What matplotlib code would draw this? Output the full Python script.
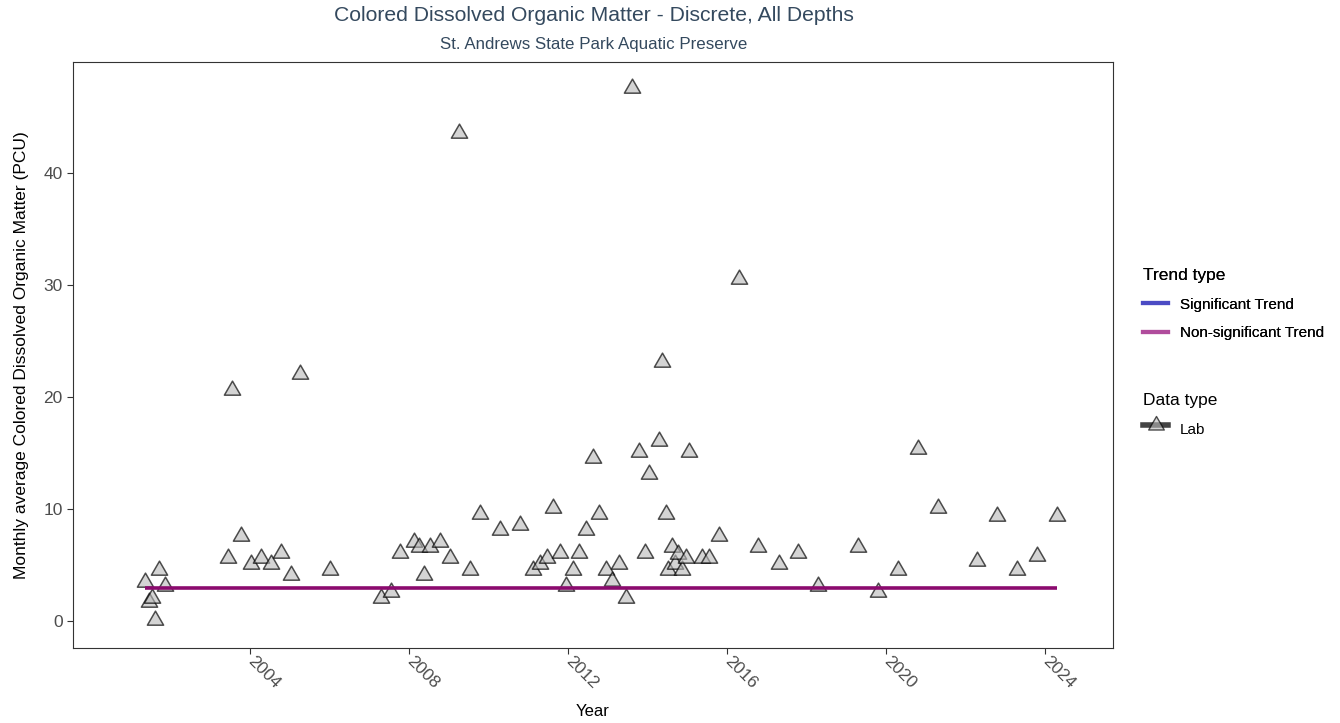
import numpy as np
import matplotlib.pyplot as plt
from matplotlib.lines import Line2D
from matplotlib.path import Path

plt.rcParams['font.family'] = ['Liberation Sans', 'DejaVu Sans']

# monthly averages (decimal year, PCU)
year = [2001.35, 2001.45, 2001.53, 2001.62, 2001.70, 2001.87,
        2003.45, 2003.55, 2003.78, 2004.03, 2004.28, 2004.54, 2004.79, 2005.04, 2005.26,
        2006.02, 2007.29, 2007.54, 2007.78, 2008.12, 2008.26, 2008.37, 2008.54, 2008.79,
        2009.04, 2009.26, 2009.54, 2009.79, 2010.29, 2010.79, 2011.13, 2011.30, 2011.46,
        2011.62, 2011.79, 2011.96, 2012.12, 2012.28, 2012.45, 2012.62, 2012.79, 2012.96,
        2013.12, 2013.29, 2013.46, 2013.61, 2013.79, 2013.95, 2014.04, 2014.29, 2014.36,
        2014.46, 2014.52, 2014.62, 2014.69, 2014.77, 2014.86, 2014.96, 2015.04, 2015.38,
        2015.55, 2015.79, 2016.30, 2016.79, 2017.30, 2017.79, 2018.30, 2019.29, 2019.80,
        2020.29, 2020.80, 2021.30, 2022.30, 2022.80, 2023.30, 2023.80, 2024.30]
cdom = [3.5, 1.7, 2.1, 0.1, 4.6, 3.1,
        5.6, 20.6, 7.6, 5.1, 5.6, 5.1, 6.1, 4.1, 22.1,
        4.6, 2.1, 2.6, 6.1, 7.1, 6.6, 4.1, 6.6, 7.1,
        5.6, 43.6, 4.6, 9.6, 8.1, 8.6, 4.6, 5.1, 5.6,
        10.1, 6.1, 3.1, 4.6, 6.1, 8.1, 14.6, 9.6, 4.6,
        3.6, 5.1, 2.1, 47.6, 15.1, 6.1, 13.1, 16.1, 23.1,
        9.6, 4.6, 6.6, 5.1, 6.0, 4.6, 5.6, 15.1, 5.6,
        5.6, 7.6, 30.5, 6.6, 5.1, 6.1, 3.1, 6.6, 2.6,
        4.6, 15.4, 10.1, 5.4, 9.4, 4.6, 5.8, 9.4]

trend_years = [2001.35, 2024.30]
trend_value = [3.0, 3.0]

# equilateral triangle, centred on its centroid
tri = Path([(0, 1), (-0.866, -0.5), (0.866, -0.5), (0, 1)],
           [Path.MOVETO, Path.LINETO, Path.LINETO, Path.CLOSEPOLY])
fill = (0.72, 0.72, 0.72, 0.6)
edge = (0, 0, 0, 0.68)

fig = plt.figure(figsize=(13.4, 7.23), dpi=100)
ax = fig.add_axes([0.0545, 0.1037, 0.7761, 0.8105])

ax.plot(year, cdom, linestyle='none', marker=tri, markersize=13.5,
        markerfacecolor=fill, markeredgecolor=edge, markeredgewidth=1.1, zorder=2)
ax.plot(trend_years, trend_value, color='#8b0a6e', linewidth=2.6,
        solid_capstyle='butt', zorder=3)

ax.set_xlim(1999.55, 2025.71)
ax.set_ylim(-2.4, 49.9)
ax.set_xticks([2004, 2008, 2012, 2016, 2020, 2024])
ax.set_yticks([0, 10, 20, 30, 40])
ax.tick_params(axis='both', colors='#333333', labelcolor='#4d4d4d',
               labelsize=12.5, length=4, width=0.8)
for lbl in ax.get_xticklabels():
    lbl.set_rotation(-45)
    lbl.set_ha('left')
    lbl.set_va('center')
    lbl.set_rotation_mode('anchor')
for s in ax.spines.values():
    s.set_color('#333333')
    s.set_linewidth(0.8)

ax.set_xlabel('Year', fontsize=12, labelpad=9)
ax.set_ylabel('Monthly average Colored Dissolved Organic Matter (PCU)', fontsize=12.5, labelpad=10)

fig.text(0.443, 0.978, 'Colored Dissolved Organic Matter - Discrete, All Depths',
         ha='center', va='center', fontsize=15.2, color='#34495e')
fig.text(0.443, 0.939, 'St. Andrews State Park Aquatic Preserve',
         ha='center', va='center', fontsize=12.2, color='#34495e')

trend_handles = [Line2D([], [], color='#4b4bc4', linewidth=3, alpha=0.95),
                 Line2D([], [], color='#b04c9c', linewidth=3, alpha=0.95)]
leg1 = fig.legend(trend_handles, ['Significant Trend', 'Non-significant Trend'],
                  title='Trend type', loc='upper left', bbox_to_anchor=(0.843, 0.648),
                  frameon=False, fontsize=11, title_fontsize=12.5, handlelength=1.6,
                  labelspacing=0.95, alignment='left')
lab_handle = (Line2D([], [], color='#444444', linewidth=4),
              Line2D([], [], linestyle='none', marker=tri, markersize=13,
                     markerfacecolor=fill, markeredgecolor=edge))
leg2 = fig.legend([lab_handle], ['Lab'], title='Data type', loc='upper left',
                  bbox_to_anchor=(0.843, 0.475), frameon=False, fontsize=11,
                  title_fontsize=12.5, handlelength=1.6, handleheight=2.3,
                  alignment='left')
fig.add_artist(leg1)

fig.savefig('out.png', dpi=100)
